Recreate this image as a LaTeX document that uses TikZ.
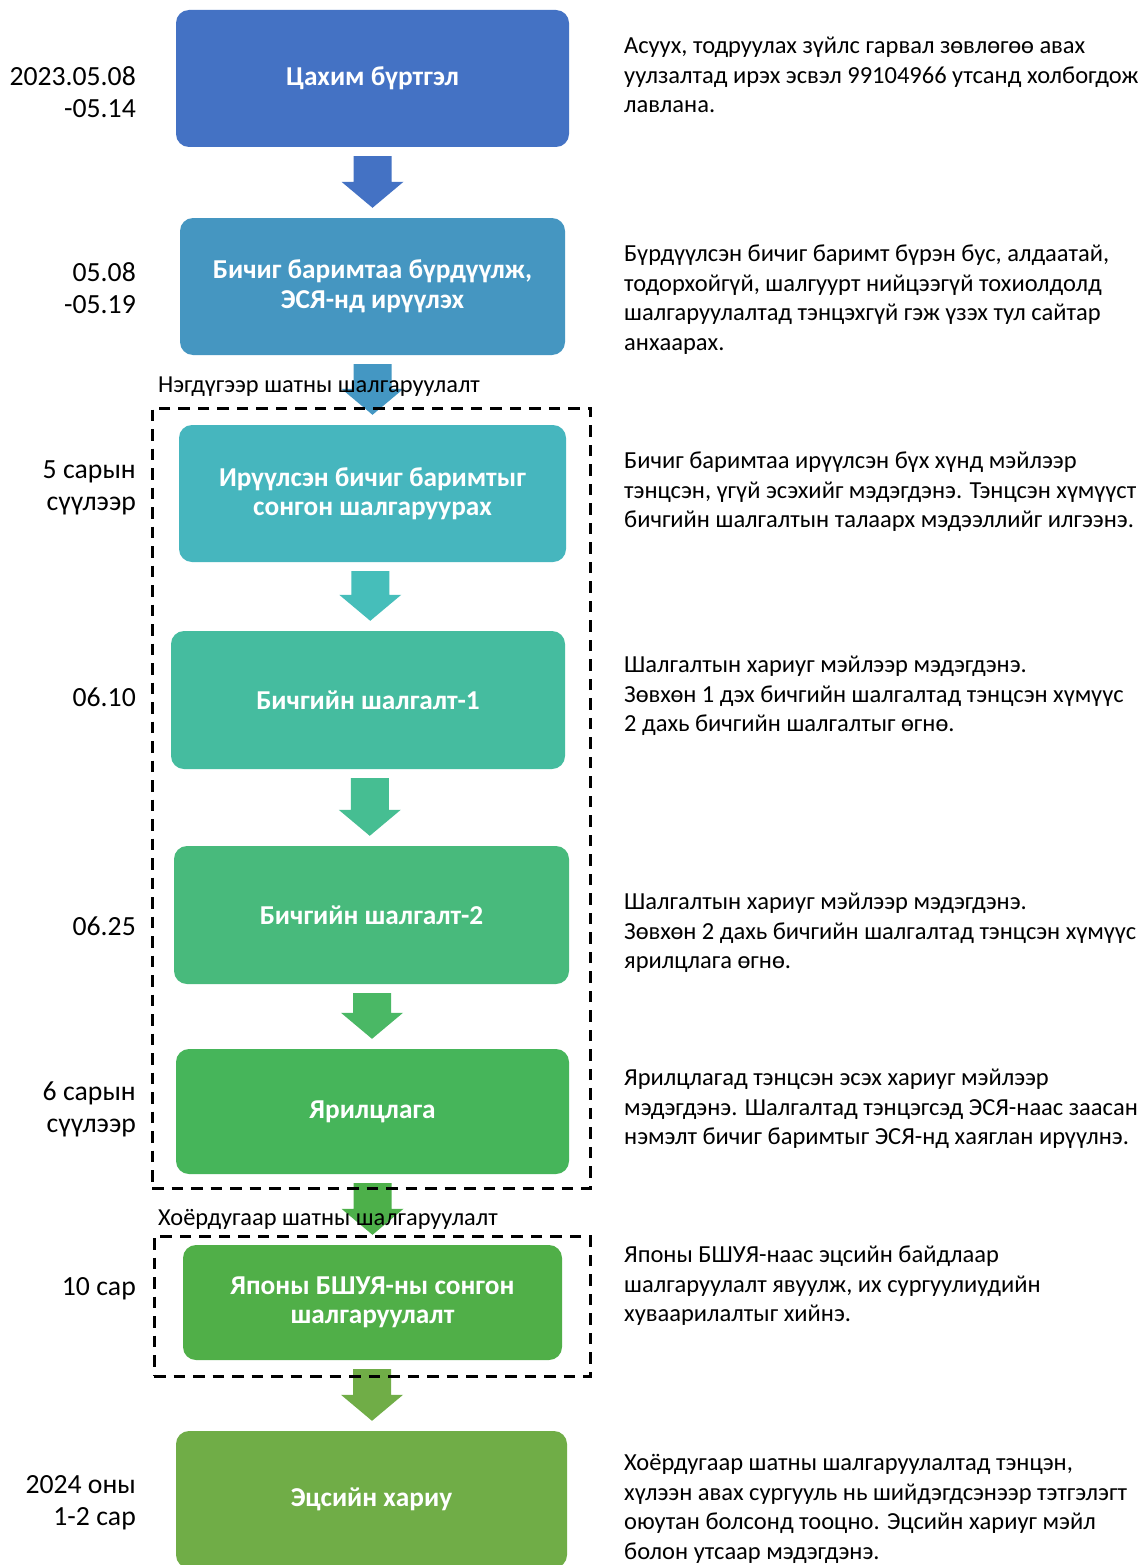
\documentclass[tikz,border=0pt]{standalone}
\usepackage{fontspec}
\setmainfont{Carlito}
\usetikzlibrary{calc}
\definecolor{cA}{HTML}{4472C4}
\definecolor{cB}{HTML}{4596C1}
\definecolor{cC}{HTML}{46B6BE}
\definecolor{cD}{HTML}{45BC9F}
\definecolor{cE}{HTML}{48BA7C}
\definecolor{cF}{HTML}{46B55A}
\definecolor{cG}{HTML}{50AF48}
\definecolor{cH}{HTML}{70AD47}
\definecolor{aB}{HTML}{4497C3}
\definecolor{aC}{HTML}{46BEBA}
\definecolor{aD}{HTML}{46BE92}
\definecolor{aE}{HTML}{4AB865}
\definecolor{aF}{HTML}{4DB04A}
\newcommand\firstln{\rule{0pt}{19pt}}
\newcommand\firstdt{\rule{0pt}{20pt}}
\newcommand\blockarrow[3]{%
  \fill[#3] let \p1=($(#1.south)!0.5!(#2.north)$), \p2=(#1.south), \p3=(#2.north) in
    (\x1-19pt,\y2-9pt) -- (\x1+19pt,\y2-9pt) -- (\x1+19pt,\y3+36pt) -- (\x1+31pt,\y3+36pt)
    -- (\x1,\y3+10pt) -- (\x1-31pt,\y3+36pt) -- (\x1-19pt,\y3+36pt) -- cycle;}
\tikzset{
  stepbox/.style={rounded corners=13pt, inner sep=0pt, text=white, align=center,
    font=\bfseries\fontsize{27.3}{29.5}\selectfont},
  note/.style={anchor=north west, inner sep=0pt, align=left,
    font=\fontsize{24.5}{29.5}\selectfont},
  datelbl/.style={anchor=north east, inner sep=0pt, align=right,
    font=\fontsize{27.7}{32}\selectfont},
  grplbl/.style={anchor=base west, inner sep=0pt, font=\fontsize{24.4}{29.5}\selectfont},
  grpbox/.style={draw=black, line width=3pt, dash pattern=on 11.5pt off 8pt, inner sep=0pt}
}
\begin{document}
\begin{tikzpicture}[x=1pt,y=-1pt]
\useasboundingbox (0,0) rectangle (1141,1565);
\clip (0,0) rectangle (1141,1565);
\fill[white] (0,0) rectangle (1141,1565);

% step boxes
\node[stepbox, fill=cA, minimum width=393pt, minimum height=137pt] (b1) at (372.5,78.5) {Цахим бүртгэл};
\node[stepbox, fill=cB, minimum width=385pt, minimum height=137pt] (b2) at (372.5,286.5) {Бичиг баримтаа бүрдүүлж,\\ЭСЯ-нд ирүүлэх};
\node[stepbox, fill=cC, minimum width=387pt, minimum height=137pt] (b3) at (372.5,493.5) {Ирүүлсэн бичиг баримтыг\\сонгон шалгаруурах};
\node[stepbox, fill=cD, minimum width=394pt, minimum height=138pt] (b4) at (368,700) {Бичгийн шалгалт-1};
\node[stepbox, fill=cE, minimum width=395pt, minimum height=138pt] (b5) at (371.5,915) {Бичгийн шалгалт-2};
\node[stepbox, fill=cF, minimum width=393pt, minimum height=125pt] (b6) at (372.5,1111.5) {Ярилцлага};
\node[stepbox, fill=cG, minimum width=379pt, minimum height=115pt] (b7) at (372.5,1302.5) {Японы БШУЯ-ны сонгон\\шалгаруулалт};
\node[stepbox, fill=cH, minimum width=391pt, minimum height=137pt] (b8) at (371.5,1499.5) {Эцсийн хариу};

% arrows
\blockarrow{b1}{b2}{cA}
\blockarrow{b2}{b3}{aB}
\blockarrow{b3}{b4}{aC}
\blockarrow{b4}{b5}{aD}
\blockarrow{b5}{b6}{aE}
\blockarrow{b6}{b7}{aF}
\blockarrow{b7}{b8}{cH}

% stage groups
\node[grpbox, minimum width=438pt, minimum height=780pt] (g1) at (371,798) {};
\node[grpbox, minimum width=436pt, minimum height=140pt] (g2) at (372,1306) {};
\node[grplbl] (l1) at (158,392) {Нэгдүгээр шатны шалгаруулалт};
\node[grplbl] (l2) at (158,1225) {Хоёрдугаар шатны  шалгаруулалт};

% dates
\node[datelbl] (d1) at (136,65) {\firstdt 2023.05.08\\-05.14};
\node[datelbl] (d2) at (136,261) {\firstdt 05.08\\-05.19};
\node[datelbl] (d3) at (136,458) {\firstdt 5 сарын\\сүүлээр};
\node[datelbl] (d4) at (136,686) {\firstdt 06.10};
\node[datelbl] (d5) at (136,915.5) {\firstdt 06.25};
\node[datelbl] (d6) at (136,1080) {\firstdt 6 сарын\\сүүлээр};
\node[datelbl] (d7) at (136,1275) {\firstdt 10 сар};
\node[datelbl] (d8) at (136,1473) {\firstdt 2024 оны\\1-2 сар};

% notes
\node[note] (n1) at (624,34.5) {\firstln Асуух, тодруулах зүйлс гарвал зөвлөгөө авах\\уулзалтад ирэх эсвэл 99104966 утсанд холбогдож\\лавлана.};
\node[note] (n2) at (624,242.5) {\firstln Бүрдүүлсэн бичиг баримт бүрэн бус, алдаатай,\\тодорхойгүй, шалгуурт нийцээгүй тохиолдолд\\шалгаруулалтад тэнцэхгүй гэж үзэх тул сайтар\\анхаарах.};
\node[note] (n3) at (624,449.5) {\firstln Бичиг баримтаа ирүүлсэн бүх хүнд мэйлээр\\тэнцсэн, үгүй эсэхийг мэдэгдэнэ. Тэнцсэн хүмүүст\\бичгийн шалгалтын талаарх мэдээллийг илгээнэ.};
\node[note] (n4) at (624,653.5) {\firstln Шалгалтын хариуг мэйлээр мэдэгдэнэ.\\Зөвхөн 1 дэх бичгийн шалгалтад тэнцсэн хүмүүс\\2 дахь бичгийн шалгалтыг өгнө.};
\node[note] (n5) at (624,890.5) {\firstln Шалгалтын хариуг мэйлээр мэдэгдэнэ.\\Зөвхөн 2 дахь бичгийн шалгалтад тэнцсэн хүмүүс\\ярилцлага өгнө.};
\node[note] (n6) at (624,1066.5) {\firstln Ярилцлагад тэнцсэн эсэх хариуг мэйлээр\\мэдэгдэнэ. Шалгалтад тэнцэгсэд ЭСЯ-наас заасан\\нэмэлт бичиг баримтыг ЭСЯ-нд хаяглан ирүүлнэ.};
\node[note] (n7) at (624,1243.5) {\firstln Японы БШУЯ-наас эцсийн байдлаар\\шалгаруулалт явуулж, их сургуулиудийн\\хуваарилалтыг хийнэ.};
\node[note] (n8) at (624,1451.5) {\firstln Хоёрдугаар шатны шалгаруулалтад тэнцэн,\\хүлээн авах сургууль нь шийдэгдсэнээр тэтгэлэгт\\оюутан болсонд тооцно. Эцсийн хариуг мэйл\\болон утсаар мэдэгдэнэ.};
\end{tikzpicture}
\end{document}
